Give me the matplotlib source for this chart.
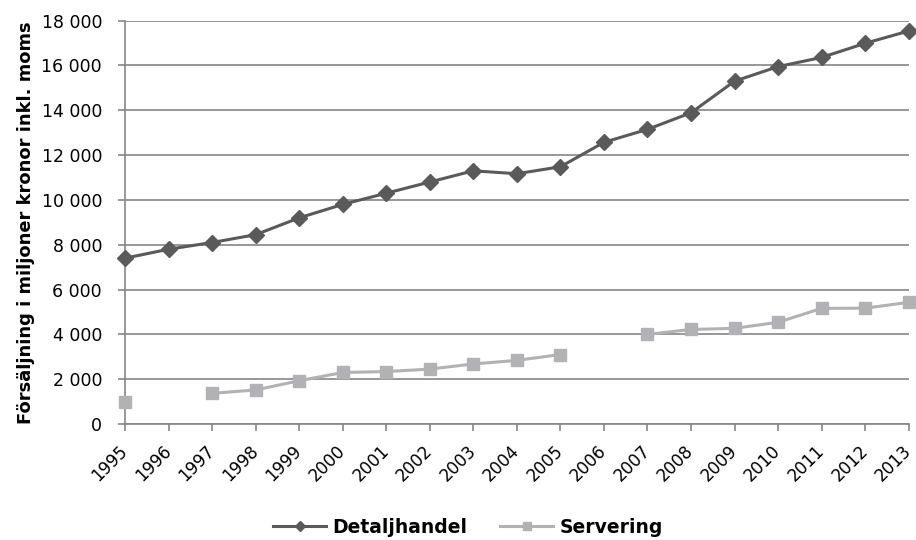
import numpy as np
import matplotlib
matplotlib.use("Agg")
import matplotlib.pyplot as plt
from matplotlib.ticker import FuncFormatter

years = [str(y) for y in range(1995, 2014)]

# Försäljning, miljoner kronor inkl. moms (NaN = saknas)
detaljhandel = [7400, 7800, 8100, 8450, 9200, 9800, 10300, 10800, 11300, 11170,
                11480, 12570, 13150, 13890, 15300, 15950, 16360, 16990, 17540]
servering = [1000, np.nan, 1370, 1520, 1930, 2300, 2340, 2450, 2680, 2840,
             3100, np.nan, 4000, 4220, 4270, 4540, 5160, 5170, 5430]

y_ticks = list(range(0, 18001, 2000))

plt.rcParams["font.family"] = "DejaVu Sans"

fig = plt.figure(figsize=(9.16, 5.4), dpi=100)
ax = fig.add_axes([0.1365, 0.2148, 0.8555, 0.7469])

x = np.arange(len(years))
ax.plot(x, detaljhandel, color="#5a5a5a", linewidth=2.2, marker="D",
        markersize=8.5, label="Detaljhandel", zorder=3, clip_on=False)
ax.plot(x, servering, color="#b2b2b4", linewidth=2.2, marker="s",
        markersize=9, label="Servering", zorder=3, clip_on=False)

ax.set_xlim(0, len(years) - 1)
ax.set_ylim(0, 18000)
ax.set_yticks(y_ticks)
ax.yaxis.set_major_formatter(FuncFormatter(lambda v, p: f"{int(v):,}".replace(",", " ")))
ax.set_xticks(x)
ax.set_xticklabels(years, rotation=45, ha="right", va="center",
                   rotation_mode="anchor", fontsize=12.2)
ax.tick_params(axis="y", labelsize=12.5, length=5, width=1.2, color="#868686", pad=11.5)
ax.tick_params(axis="x", length=5, width=1.2, color="#868686", pad=12.5)

ax.grid(axis="y", color="#868686", linewidth=1.2)
ax.set_axisbelow(True)
for side in ["top", "right"]:
    ax.spines[side].set_visible(False)
for side in ["left", "bottom"]:
    ax.spines[side].set_color("#868686")
    ax.spines[side].set_linewidth(1.2)

ax.set_ylabel("Försäljning i miljoner kronor inkl. moms", fontsize=12.9,
              fontweight="bold")
ax.yaxis.set_label_coords(-0.1145, 0.5)

leg = fig.legend(loc="center", bbox_to_anchor=(0.511, 0.024), ncol=2, frameon=False,
                 handlelength=2.8, handletextpad=0.35, columnspacing=1.75,
                 markerscale=0.65, prop={"weight": "bold", "size": 13.5})

fig.savefig("out.png", dpi=100)
